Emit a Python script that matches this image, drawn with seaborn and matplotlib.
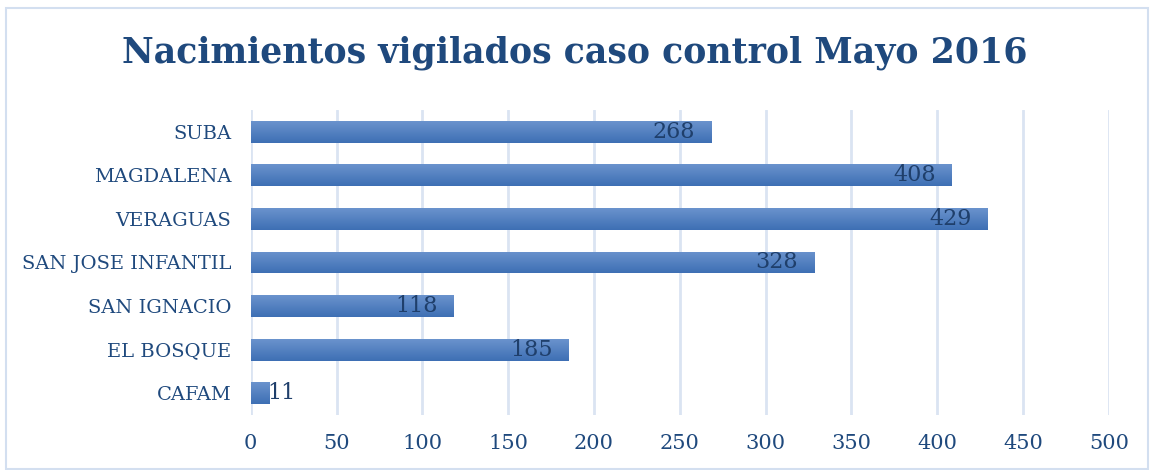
import numpy as np
import pandas as pd
import matplotlib
matplotlib.use("Agg")
import matplotlib.pyplot as plt
import seaborn as sns
from matplotlib.colors import LinearSegmentedColormap
from matplotlib.patches import Rectangle

# Data
hospitales = ["SUBA", "MAGDALENA", "VERAGUAS", "SAN JOSE INFANTIL",
              "SAN IGNACIO", "EL BOSQUE", "CAFAM"]
nacimientos = [268, 408, 429, 328, 118, 185, 11]
ticks = [0, 50, 100, 150, 200, 250, 300, 350, 400, 450, 500]

df = pd.DataFrame({"hospital": hospitales, "nacimientos": nacimientos})

sns.set_theme(style="white")
plt.rcParams["font.family"] = ["DejaVu Serif"]

text_color = "#1f497d"
grid_color = "#dae4f2"

fig = plt.figure(figsize=(11.5, 4.7), dpi=100)
ax = fig.add_axes([0.218, 0.117, 0.9643 - 0.218, 0.766 - 0.117])

sns.barplot(data=df, y="hospital", x="nacimientos", orient="h",
            color="#4f81bd", width=0.5, ax=ax, zorder=3)

# gradient fill on each bar (lighter on top)
cmap = LinearSegmentedColormap.from_list("g", ["#6b93cd", "#3d6fb4"])
grad = np.linspace(0, 1, 256).reshape(-1, 1)
for p in ax.patches:
    x0, y0 = p.get_x(), p.get_y()
    w, h = p.get_width(), p.get_height()
    p.set_facecolor("none")
    p.set_edgecolor("none")
    im = ax.imshow(grad, cmap=cmap, aspect="auto",
                   extent=[x0, x0 + w, y0 + h, y0], zorder=3)
    clip = Rectangle((x0, y0), w, h, transform=ax.transData)
    im.set_clip_path(clip)

# value labels
for i, v in enumerate(nacimientos):
    if v < 30:
        ax.text(v - 1.5, i, str(v), ha="left", va="center",
                fontsize=16, color="#1f3f6b", zorder=4)
    else:
        ax.text(v - 9, i, str(v), ha="right", va="center",
                fontsize=16, color="#1f3f6b", zorder=4)

ax.set_xlim(0, 500)
ax.set_ylim(len(hospitales) - 0.5, -0.5)
ax.set_xticks(ticks)
ax.set_xticklabels([str(t) for t in ticks])
ax.xaxis.grid(True, color=grid_color, linewidth=2, zorder=0)
ax.yaxis.grid(False)
for s in ax.spines.values():
    s.set_visible(False)
ax.tick_params(axis="y", length=0, labelsize=14, colors=text_color, pad=14)
ax.tick_params(axis="x", length=0, labelsize=15, colors=text_color, pad=14)
ax.set_xlabel("")
ax.set_ylabel("")

fig.text(0.5, 0.888, "Nacimientos vigilados caso control Mayo 2016",
         ha="center", va="center", fontsize=25, fontweight="bold",
         color="#1f497d")

# chart border
fig.patches.append(Rectangle((0.005, 0.002), 0.993, 0.982, transform=fig.transFigure,
                             fill=False, edgecolor="#d3dff0", linewidth=1.5))

fig.savefig("out.png", dpi=100)
